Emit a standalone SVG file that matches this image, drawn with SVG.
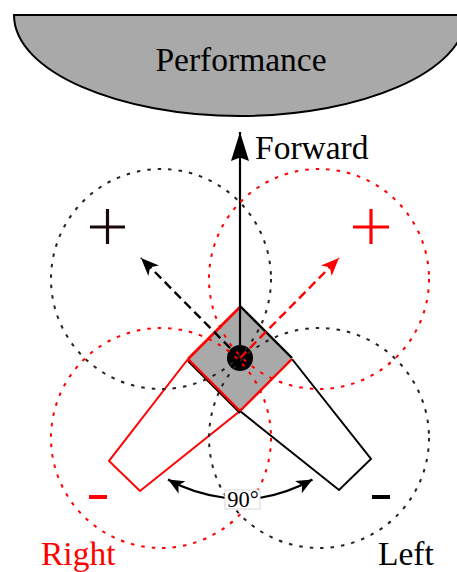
<svg xmlns="http://www.w3.org/2000/svg" width="457" height="572" viewBox="0 0 457 572">
<style>
text{font-family:"Liberation Serif","Times New Roman",serif;font-size:33.500px;fill:#000}
.c{fill:none;stroke-width:2;stroke-dasharray:3.500 7}
.k{stroke:#2a2020}.r{stroke:#f00}
.kf{fill:#000}.rf{fill:#f00}
</style>
<defs>
<marker id="hf" markerUnits="userSpaceOnUse" markerWidth="32" markerHeight="22" refX="29" refY="10" orient="auto"><path d="M29 10L0 1 3.500 10 0 19Z" fill="#000"/></marker>
<marker id="hk" markerUnits="userSpaceOnUse" markerWidth="22" markerHeight="20" refX="18" refY="9" orient="auto"><path d="M18 9L0 1.500 5 9 0 16.500Z" fill="#000"/></marker>
<marker id="hr" markerUnits="userSpaceOnUse" markerWidth="22" markerHeight="20" refX="18" refY="9" orient="auto"><path d="M18 9L0 1.500 5 9 0 16.500Z" fill="#f00"/></marker>
<marker id="has" markerUnits="userSpaceOnUse" markerWidth="22" markerHeight="20" refX="0" refY="8" orient="auto"><path d="M0 8L16 1 12 8 16 15Z" fill="#000"/></marker>
</defs>
<g id="performance">
<path d="M14 15H466C466 72 360 116 240 116C120 116 14 72 14 15Z" fill="#a9a9a9" stroke="#000" stroke-width="2"/>
<text x="241" y="71" text-anchor="middle">Performance</text>
</g>
<g id="speaker-right"><path d="M188 359L109 461 140 491 240 411" fill="none" stroke="#f00" stroke-width="2"/></g>
<g id="speaker-left"><path d="M292 359L371 459 339 490 240 411" fill="none" stroke="#000" stroke-width="2"/></g>
<g id="head">
<path d="M240 307L292 359 240 411 188 359Z" fill="#a9a9a9"/>
<path d="M240 306L292 358" fill="none" stroke="#000" stroke-width="2.400"/>
<path d="M188 361L240 413" fill="none" stroke="#000" stroke-width="2"/>
<path d="M292 359L240 411" fill="none" stroke="#f00" stroke-width="2.400"/>
<path d="M240 411L188 359" fill="none" stroke="#f00" stroke-width="2.400"/>
<path d="M188 359L240 307" fill="none" stroke="#f00" stroke-width="2.600"/>
<circle cx="240" cy="358" r="13" fill="#000"/>
</g>
<g id="connectors" fill="none">
<path d="M240 358V132" stroke="#000" stroke-width="2.200" marker-end="url(#hf)"/>
<path d="M240 358L141 258" stroke="#000" stroke-width="2.400" stroke-dasharray="9 5" marker-end="url(#hk)"/>
<path d="M240 358L339 258" stroke="#f00" stroke-width="2.400" stroke-dasharray="9 5" marker-end="url(#hr)"/>
<path d="M168 479.500Q194 494 226 498" stroke="#000" stroke-width="2.200" marker-start="url(#has)"/>
<path d="M312.500 479.500Q286 494 259 498" stroke="#000" stroke-width="2.200" marker-start="url(#has)"/>
</g>
<g id="circle-left-plus"><circle class="c k" cx="161" cy="279" r="110"/></g>
<g id="circle-right-plus"><circle class="c r" cx="319" cy="279" r="110"/></g>
<g id="circle-right-minus"><circle class="c r" cx="161" cy="438" r="110"/></g>
<g id="circle-left-minus"><circle class="c k" cx="319" cy="438" r="110"/></g>
<g id="plus-black"><path d="M90 227H125M107.500 209V244" stroke="#1a0808" stroke-width="3.200" fill="none"/></g>
<g id="plus-red"><path d="M353 227H389M371 209V244" stroke="#f00" stroke-width="3.200" fill="none"/></g>
<g id="minus-red"><rect x="89" y="495" width="18" height="4" class="rf"/></g>
<g id="minus-black"><rect x="372" y="495" width="18" height="4" class="kf"/></g>
<g id="label-90"><rect x="225" y="490" width="35" height="19" fill="#fff" stroke="#d8d8d8"/><text x="243" y="507" text-anchor="middle" style="font-size:22.500px">90°</text></g>
<g id="label-forward"><text x="255" y="159">Forward</text></g>
<g id="label-right"><text x="41" y="565" style="fill:#f00">Right</text></g>
<g id="label-left"><text x="378" y="565">Left</text></g>
</svg>
